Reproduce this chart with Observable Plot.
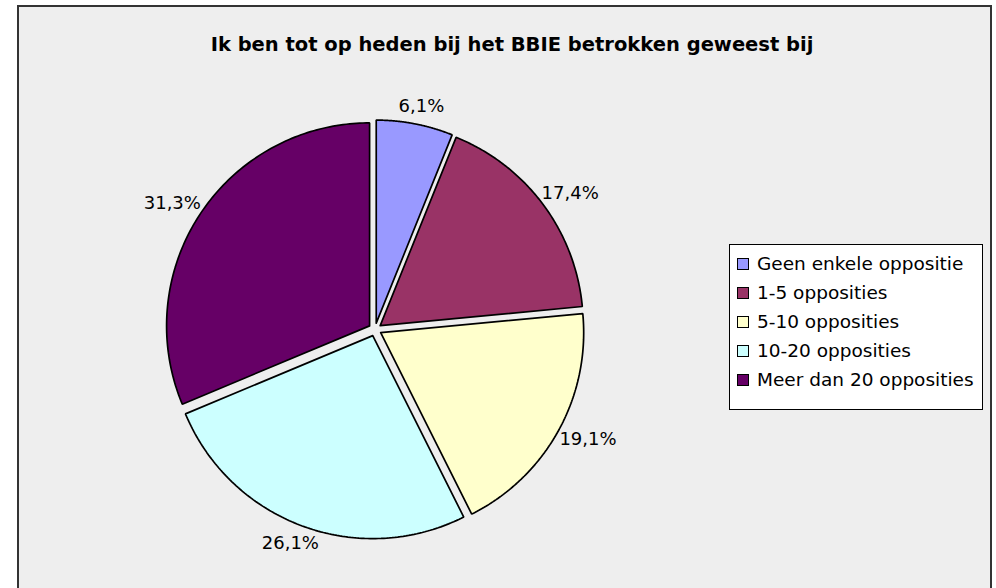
<!DOCTYPE html>
<html><head><meta charset="utf-8">
<script src="https://cdn.jsdelivr.net/npm/d3@7"></script>
<script src="https://cdn.jsdelivr.net/npm/@observablehq/plot@0.6"></script>
<style>
body{margin:0;background:#fff;}
#wrap{position:relative;width:996px;height:588px;overflow:hidden;font-family:"DejaVu Sans",Verdana,sans-serif;color:#000;}
#frame{position:absolute;left:17px;top:5px;width:971px;height:640px;border:2px solid #333;background:#eeeeee;}
#title{position:absolute;left:0;width:1024px;top:35px;line-height:20px;text-align:center;font-weight:bold;font-size:19.5px;}
#plot{position:absolute;left:0;top:0;}
#legend{position:absolute;left:729px;top:244px;width:254px;height:166px;border:1px solid #000;background:#fff;box-sizing:border-box;}
.row{position:absolute;left:7px;height:29px;display:flex;align-items:center;font-size:18.5px;white-space:nowrap;}
.sw{width:10px;height:10px;border:1px solid #000;margin-right:8px;}
</style>
</head><body>
<div id="wrap">
  <div id="frame"></div>
  <div id="title"></div>
  <div id="plot"></div>
  <div id="legend"></div>
</div>
<script>
const title = "Ik ben tot op heden bij het BBIE betrokken geweest bij";
const categories = ["Geen enkele oppositie", "1-5 opposities", "5-10 opposities", "10-20 opposities", "Meer dan 20 opposities"];
const values = [6.1, 17.4, 19.1, 26.1, 31.3];
const valueLabels = ["6,1%", "17,4%", "19,1%", "26,1%", "31,3%"];
const colors = ["#9999FF", "#993366", "#FFFFCC", "#CCFFFF", "#660066"];

// layout (pixels)
const W = 996, H = 588;
const cx = 374.5, cy = 329, R = 203, explodePx = 6.5;
const e = explodePx / R;

const total = d3.sum(values);
let acc = 0;
const slices = values.map((v, i) => {
  const a0 = acc / total * 2 * Math.PI;
  acc += v;
  const a1 = acc / total * 2 * Math.PI;
  return {i, a0, a1, mid: (a0 + a1) / 2};
});

function slicePoints(s) {
  const ox = e * Math.sin(s.mid), oy = e * Math.cos(s.mid);
  const pts = [{x: ox, y: oy}];
  const N = 120;
  for (let t = 0; t <= N; t++) {
    const a = s.a0 + (s.a1 - s.a0) * t / N;
    pts.push({x: ox + Math.sin(a), y: oy + Math.cos(a)});
  }
  pts.push({x: ox, y: oy});
  return pts;
}

const hw = 26 / R, hh = 10 / R, pad = 8 / R;
const labelData = slices.map(s => {
  const sx = Math.sin(s.mid), sy = Math.cos(s.mid);
  return {
    x: e * sx + sx * (1 + pad) + sx * hw,
    y: e * sy + sy * (1 + pad) + sy * hh,
    text: valueLabels[s.i]
  };
});

const marks = slices.map(s => Plot.line(slicePoints(s), {
  x: "x", y: "y", fill: colors[s.i], stroke: "#000", strokeWidth: 1.7, strokeLinejoin: "miter"
}));
marks.push(Plot.text(labelData, {x: "x", y: "y", text: "text", fontSize: 18, fill: "#000", fontFamily: "DejaVu Sans"}));

const chart = Plot.plot({
  width: W, height: H, margin: 0,
  x: {domain: [-cx / R, (W - cx) / R], axis: null},
  y: {domain: [-(H - cy) / R, cy / R], axis: null},
  style: {background: "transparent", overflow: "visible"},
  marks
});
document.getElementById("plot").appendChild(chart);
document.getElementById("title").textContent = title;

const legend = document.getElementById("legend");
categories.forEach((c, i) => {
  const row = document.createElement("div");
  row.className = "row";
  row.style.top = (4 + i * 29) + "px";
  const sw = document.createElement("div");
  sw.className = "sw";
  sw.style.background = colors[i];
  const t = document.createElement("span");
  t.textContent = c;
  row.appendChild(sw); row.appendChild(t);
  legend.appendChild(row);
});
</script>
</body></html>
